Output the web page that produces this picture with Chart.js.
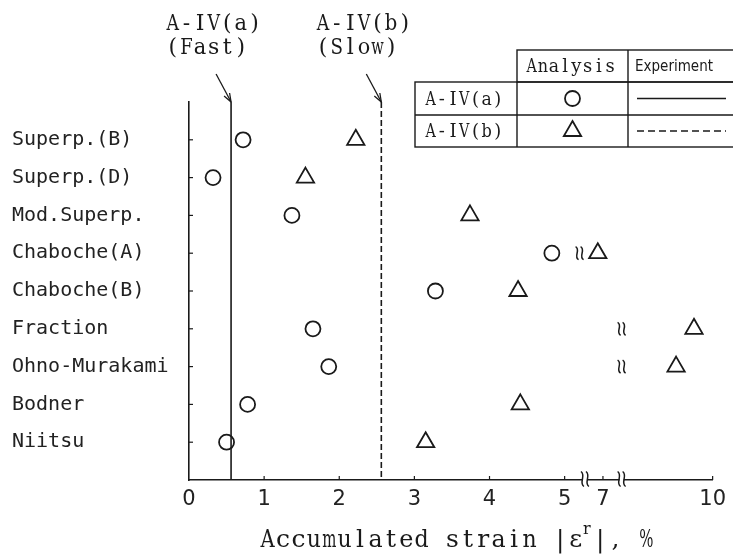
<!DOCTYPE html>
<html>
<head>
<meta charset="utf-8">
<script src="https://cdn.jsdelivr.net/npm/chart.js@4"></script>
<style>
html,body{margin:0;padding:0;background:#fff;}
#wrap{width:733px;height:556px;position:relative;}
</style>
</head>
<body>
<div id="wrap"><canvas id="c" width="733" height="556"></canvas></div>
<script>
// ---- data ----
const categories = ['Superp.(B)','Superp.(D)','Mod.Superp.','Chaboche(A)','Chaboche(B)','Fraction','Ohno-Murakami','Bodner','Niitsu'];
const analysisFast = [0.72, 0.32, 1.37, 4.83, 3.28, 1.65, 1.86, 0.78, 0.50];   // A-IV(a) circles
const analysisSlow = [2.22, 1.55, 3.74, 6.73, 4.38, 9.49, 9.00, 4.41, 3.15];   // A-IV(b) triangles
const experimentFast = 0.56;   // A-IV(a) solid line
const experimentSlow = 2.56;   // A-IV(b) dashed line
const xTickLabels = [0, 1, 2, 3, 4, 5, 7, 10];
// broken axis: where each tick value sits on the drawn (compressed) axis
const xTickDisplay = [0, 1, 2, 3, 4, 5, 5.51, 6.97];
const axisBreaks = [6.06, 7.51];            // values where the axis is broken
const offScaleRows = [[3, 5.78], [5, 7.51], [6, 7.51]]; // [row, value] of break marks before off-scale points

function toDisplay(v){
  for (let i = 0; i < xTickLabels.length - 1; i++){
    const a = xTickLabels[i], b = xTickLabels[i+1];
    if (v <= b || i === xTickLabels.length - 2){
      const t = (v - a) / (b - a);
      return xTickDisplay[i] + t * (xTickDisplay[i+1] - xTickDisplay[i]);
    }
  }
}

const INK = '#1a1a1a';
const yMin = -1, yMax = categories.length;

// typewriter-style text: one character per fixed-width cell, wide glyphs squeezed
function drawMono(ctx, text, x, y, pitch, font){
  ctx.save();
  ctx.font = font; ctx.textAlign = 'center'; ctx.textBaseline = 'alphabetic';
  [...text].forEach((ch, i) => {
    const cx = x + (i + 0.5) * pitch;
    const w = ctx.measureText(ch).width, maxW = pitch * 0.92;
    if (w > maxW){
      ctx.save(); ctx.translate(cx, y); ctx.scale(maxW / w, 1); ctx.fillText(ch, 0, 0); ctx.restore();
    } else ctx.fillText(ch, cx, y);
  });
  ctx.restore();
  return x + [...text].length * pitch;
}

function wavyMark(ctx, x, y, h){
  ctx.save();
  ctx.strokeStyle = INK; ctx.lineWidth = 1.5;
  for (const dx of [-2.5, 2.5]){
    ctx.beginPath();
    const x0 = x + dx;
    ctx.moveTo(x0 - 1.5, y - h/2);
    ctx.bezierCurveTo(x0 + 4, y - h/4, x0 - 4, y + h/4, x0 + 1.5, y + h/2);
    ctx.stroke();
  }
  ctx.restore();
}

const decor = {
  id: 'decor',
  afterDraw(chart){
    const ctx = chart.ctx, xs = chart.scales.x, ys = chart.scales.y;
    const area = chart.chartArea;
    ctx.save();
    ctx.strokeStyle = INK; ctx.fillStyle = INK; ctx.lineWidth = 1.2;
    // y ticks pointing inward
    categories.forEach((c, i) => {
      const py = ys.getPixelForValue(i);
      ctx.beginPath(); ctx.moveTo(area.left, py); ctx.lineTo(area.left + 4, py); ctx.stroke();
    });
    // x ticks pointing up
    xTickLabels.forEach(v => {
      if (v === 0) return;
      const px = xs.getPixelForValue(toDisplay(v));
      ctx.beginPath(); ctx.moveTo(px, area.bottom); ctx.lineTo(px, area.bottom - 4); ctx.stroke();
    });
    // axis breaks
    axisBreaks.forEach(v => {
      const px = xs.getPixelForValue(toDisplay(v));
      ctx.fillStyle = '#fff';
      ctx.fillRect(px - 2, area.bottom - 2, 4, 4);
      wavyMark(ctx, px, area.bottom - 1, 15);
    });
    ctx.fillStyle = INK;
    // off-scale marks in rows
    offScaleRows.forEach(([r, v]) => {
      wavyMark(ctx, xs.getPixelForValue(toDisplay(v)), ys.getPixelForValue(r), 13);
    });
    // annotations with arrows
    const notes = [[experimentFast, 'A-IV(a)', '(Fast)'], [experimentSlow, 'A-IV(b)', '(Slow)']];
    notes.forEach(([v, t1, t2]) => {
      const px = xs.getPixelForValue(toDisplay(v));
      const top = area.top;
      const tx = px - 65;
      drawMono(ctx, t1, tx, 30, 13.6, '22px "DejaVu Serif"');
      drawMono(ctx, t2, tx, 54, 13.6, '22px "DejaVu Serif"');
      ctx.lineWidth = 1.3;
      ctx.beginPath(); ctx.moveTo(px - 15, top - 28); ctx.lineTo(px, top); ctx.stroke();
      ctx.beginPath();
      ctx.moveTo(px, top); ctx.lineTo(px - 1.5, top - 9);
      ctx.moveTo(px, top); ctx.lineTo(px - 7, top - 6);
      ctx.stroke();
    });
    // legend table
    const L = 415, c1 = 517, c2 = 628, R = 740;
    const r0 = 50, r1 = 82, r2 = 115, r3 = 147;
    ctx.lineWidth = 1.4;
    ctx.strokeRect(c1, r0, R - c1, r1 - r0);
    ctx.strokeRect(L, r1, R - L, r3 - r1);
    ctx.beginPath();
    ctx.moveTo(L, r2); ctx.lineTo(R, r2);
    ctx.moveTo(c1, r1); ctx.lineTo(c1, r3);
    ctx.moveTo(c2, r0); ctx.lineTo(c2, r3);
    ctx.stroke();
    const tf = '18px "DejaVu Serif"';
    drawMono(ctx, 'Analysis', 526, (r0 + r1) / 2 + 6, 11.2, tf);
    drawMono(ctx, 'A-IV(a)', 425, (r1 + r2) / 2 + 6, 11.2, tf);
    drawMono(ctx, 'A-IV(b)', 425, (r2 + r3) / 2 + 6, 11.2, tf);
    ctx.font = '15px "DejaVu Sans Condensed", "DejaVu Sans"';
    ctx.textAlign = 'left'; ctx.textBaseline = 'middle';
    ctx.fillText('Experiment', c2 + 7, (r0 + r1) / 2 + 1);
    const cx = (c1 + c2) / 2;
    ctx.lineWidth = 1.8;
    ctx.beginPath(); ctx.arc(cx, (r1 + r2) / 2, 7.5, 0, Math.PI * 2); ctx.stroke();
    const ty = (r2 + r3) / 2, tr = 10;
    ctx.beginPath();
    ctx.moveTo(cx, ty - tr); ctx.lineTo(cx + tr * 0.866, ty + tr / 2); ctx.lineTo(cx - tr * 0.866, ty + tr / 2); ctx.closePath(); ctx.stroke();
    ctx.lineWidth = 1.5;
    ctx.beginPath(); ctx.moveTo(637, (r1 + r2) / 2); ctx.lineTo(726, (r1 + r2) / 2); ctx.stroke();
    ctx.setLineDash([7, 4]);
    ctx.beginPath(); ctx.moveTo(637, ty); ctx.lineTo(726, ty); ctx.stroke();
    ctx.setLineDash([]);
    // x axis title with superscript (typewriter cells)
    const tfont = '25px "DejaVu Serif"';
    let x = drawMono(ctx, 'Accumulated strain |\u03b5', 260, 547, 15.4, tfont);
    x = drawMono(ctx, 'r', x - 1, 534, 9, '16px "DejaVu Serif"');
    drawMono(ctx, '|, %', x + 1, 547, 15.4, tfont);
    ctx.restore();
  }
};

const ctxEl = document.getElementById('c');
new Chart(ctxEl, {
  type: 'scatter',
  data: {
    datasets: [
      {
        label: 'Analysis A-IV(a)',
        data: analysisFast.map((v, i) => ({x: toDisplay(v), y: i})),
        pointStyle: 'circle', pointRadius: 7.5, pointBorderWidth: 1.8,
        pointBorderColor: INK, pointBackgroundColor: 'rgba(255,255,255,0)'
      },
      {
        label: 'Analysis A-IV(b)',
        data: analysisSlow.map((v, i) => ({x: toDisplay(v), y: i})),
        pointStyle: 'triangle', pointRadius: 10, pointBorderWidth: 1.8,
        pointBorderColor: INK, pointBackgroundColor: 'rgba(255,255,255,0)'
      },
      {
        label: 'Experiment A-IV(a)',
        data: [{x: toDisplay(experimentFast), y: yMin}, {x: toDisplay(experimentFast), y: yMax}],
        showLine: true, pointRadius: 0, borderColor: INK, borderWidth: 1.6
      },
      {
        label: 'Experiment A-IV(b)',
        data: [{x: toDisplay(experimentSlow), y: yMin}, {x: toDisplay(experimentSlow), y: yMax}],
        showLine: true, pointRadius: 0, borderColor: INK, borderWidth: 1.6, borderDash: [6, 3]
      }
    ]
  },
  options: {
    responsive: false,
    devicePixelRatio: 1,
    animation: false,
    layout: {padding: {left: 12, right: 11, top: 102, bottom: 0}},
    plugins: {legend: {display: false}, tooltip: {enabled: false}},
    scales: {
      x: {
        type: 'linear', min: 0, max: xTickDisplay[xTickDisplay.length - 1],
        afterBuildTicks: s => { s.ticks = xTickDisplay.map(v => ({value: v})); },
        afterFit: s => { s.height = 76; },
        grid: {display: false, drawTicks: false},
        border: {display: true, color: INK, width: 1.6},
        ticks: {
          autoSkip: false, maxRotation: 0, padding: 7, color: '#222',
          font: {family: '"DejaVu Sans"', size: 21},
          callback: (v, i) => String(xTickLabels[i])
        }
      },
      y: {
        type: 'linear', min: yMin, max: yMax, reverse: true,
        afterBuildTicks: s => { s.ticks = categories.map((c, i) => ({value: i})); },
        afterFit: s => { s.width = 177; },
        grid: {display: false, drawTicks: false},
        border: {display: true, color: INK, width: 1.6},
        ticks: {
          autoSkip: false, crossAlign: 'far', padding: 0, color: '#222',
          font: {family: '"DejaVu Sans Mono"', size: 20},
          callback: (v, i) => categories[i]
        }
      }
    }
  },
  plugins: [decor]
});
</script>
</body>
</html>
